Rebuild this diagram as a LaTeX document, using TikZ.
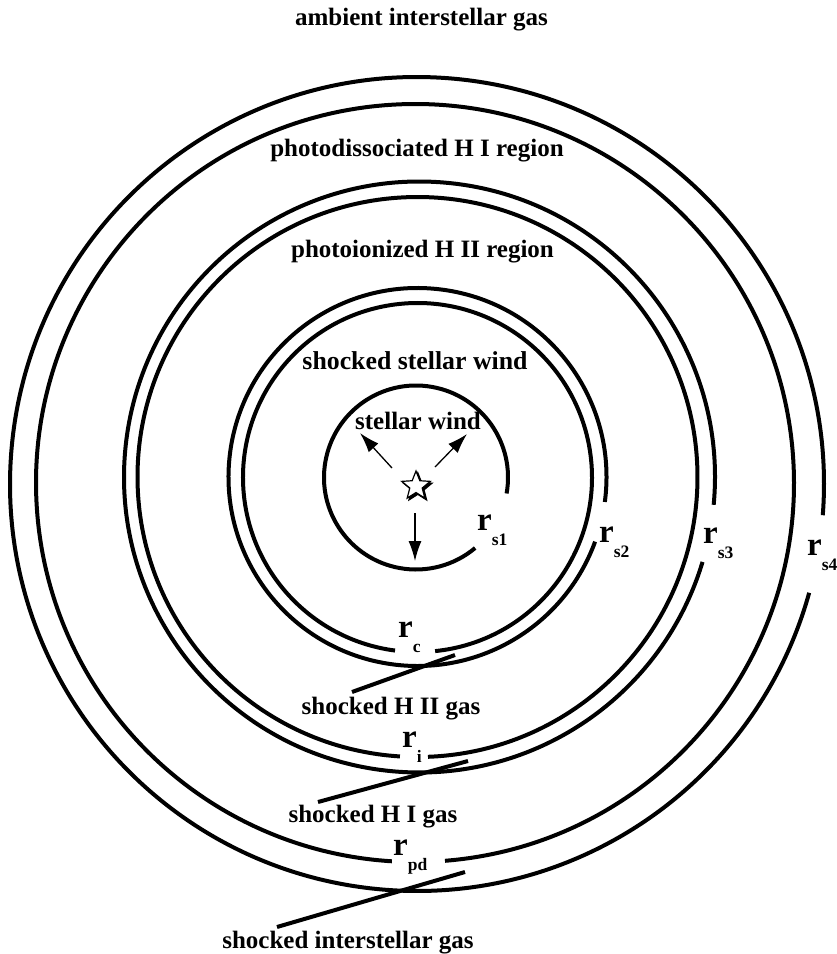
\documentclass[tikz,border=0pt]{standalone}
\usepackage{fontspec}
\setmainfont{Liberation Serif}
\usetikzlibrary{arrows.meta,shapes.geometric}
\newcommand{\myrlab}[1]{\fontsize{33}{33}\selectfont r\raisebox{-15pt}{\fontsize{17.5}{17.5}\selectfont #1}}
\begin{document}
\begin{tikzpicture}[x=1pt,y=1pt,
  ring/.style={line width=4pt},
  lead/.style={line width=4pt},
  reg/.style={font=\fontsize{25}{30}\selectfont\bfseries, inner sep=0pt, anchor=base},
  rlab/.style={font=\bfseries, inner sep=0pt, anchor=base west},
  wind/.style={line width=1.3pt, -{Latex[length=20pt,width=13pt]}},
  starshape/.style={star, star points=5, star point ratio=2.3, minimum size=30pt, inner sep=0pt, line width=1.2pt}]
\useasboundingbox (0,0) rectangle (837,-954);

% rings (with gaps for the labels)
\draw[ring] (416,-477.5) ++(-10:92pt) arc[start angle=-10, end angle=310, radius=92pt];
\draw[ring] (417.5,-477.5) ++(-84.2:174.5pt) arc[start angle=-84.2, end angle=262.6, radius=174.5pt];
\draw[ring] (417.5,-477) ++(-7.6:189pt) arc[start angle=-7.6, end angle=340, radius=189pt];
\draw[ring] (417.5,-477) ++(-87.85:280pt) arc[start angle=-87.85, end angle=266.4, radius=280pt];
\draw[ring] (419.5,-477) ++(-5.4:295.5pt) arc[start angle=-5.4, end angle=343.3, radius=295.5pt];
\draw[ring] (415,-483) ++(-85.46:379pt) arc[start angle=-85.46, end angle=266.5, radius=379pt];
\draw[ring] (417,-484) ++(-4.4:407pt) arc[start angle=-4.4, end angle=344.5, radius=407pt];

% region texts
\node[reg] (amb) at (421.5,-25) {ambient interstellar gas};
\node[reg] (pd) at (417,-156) {photodissociated H I region};
\node[reg] (pi) at (422.5,-257) {photoionized H II region};
\node[reg, font=\fontsize{25.8}{30}\selectfont\bfseries] (ssw) at (415,-369) {shocked stellar wind};
\node[reg] (sw) at (418,-429) {stellar wind};

% star
\node[starshape, fill=black, draw] (starsh) at (417.8,-487.8) {};
\node[starshape, fill=white, draw] (star) at (416,-486) {};

% wind arrows
\coordinate (w1s) at (392,-468);
\coordinate (w1e) at (360,-433);
\coordinate (w2s) at (435,-467);
\coordinate (w2e) at (467,-434);
\coordinate (w3s) at (415,-513);
\coordinate (w3e) at (415,-561);
\draw[wind] (w1s) -- (w1e);
\draw[wind] (w2s) -- (w2e);
\draw[wind] (w3s) -- (w3e);

% radius labels
\node[rlab] (rs1) at (477,-530) {\myrlab{s1}};
\node[rlab] (rs2) at (599,-542) {\myrlab{s2}};
\node[rlab] (rs3) at (703,-543) {\myrlab{s3}};
\node[rlab] (rs4) at (807,-555) {\myrlab{s4}};
\node[rlab] (rc) at (398,-637) {\myrlab{c}};
\node[rlab] (ri) at (402,-747) {\myrlab{i}};
\node[rlab] (rpd) at (393,-855) {\myrlab{pd}};

% shocked gas labels and leaders
\node[reg] (sh2) at (391,-714) {shocked H II gas};
\node[reg] (sh1) at (373,-822) {shocked H I gas};
\node[reg] (shi) at (348,-948) {shocked interstellar gas};
\coordinate (l1a) at (352,-692);
\coordinate (l1b) at (455,-655);
\coordinate (l2a) at (318,-802);
\coordinate (l2b) at (468,-761);
\coordinate (l3a) at (277,-927);
\coordinate (l3b) at (465,-872);
\draw[lead] (l1a) -- (l1b);
\draw[lead] (l2a) -- (l2b);
\draw[lead] (l3a) -- (l3b);
\end{tikzpicture}
\end{document}
